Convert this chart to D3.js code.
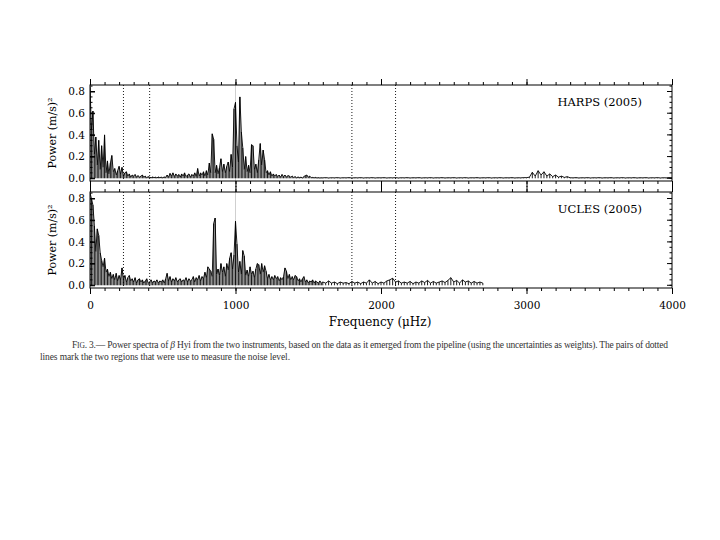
<!DOCTYPE html>
<html><head><meta charset="utf-8">
<script src="https://cdn.jsdelivr.net/npm/d3@7"></script>
<style>body{margin:0;background:#fff}svg{display:block}</style>
</head><body>
<svg id="c" width="720" height="540"></svg>
<script>
// ---------------- data ----------------
const xTicksMajor = [0, 1000, 2000, 3000, 4000];
const yTicksMajor = [0.0, 0.2, 0.4, 0.6, 0.8];
const noiseRegions = [230, 410, 1800, 2100];
const panelLabels = ["HARPS (2005)", "UCLES (2005)"];

// HARPS power, 0..1590 uHz every 10 uHz
const harpsLow = [
0.84,0.45,0.62,0.22,0.38,0.12,0.35,0.08,0.30,0.10,
0.40,0.05,0.16,0.04,0.14,0.21,0.06,0.09,0.03,0.07,
0.11,0.04,0.10,0.02,0.05,0.06,0.02,0.04,0.01,0.03,
0.02,0.035,0.01,0.025,0.01,0.02,0.03,0.01,0.02,0.005,
0.015,0.01,0.005,0.012,0.006,0.01,0.004,0.012,0.006,0.01,
0.005,0.012,0.008,0.03,0.01,0.045,0.02,0.05,0.015,0.04,
0.02,0.035,0.01,0.04,0.02,0.05,0.015,0.03,0.04,0.01,
0.035,0.02,0.05,0.015,0.09,0.02,0.05,0.03,0.06,0.02,
0.07,0.03,0.14,0.05,0.41,0.36,0.05,0.12,0.04,0.10,
0.18,0.06,0.13,0.05,0.11,0.15,0.06,0.22,0.10,0.64,
0.70,0.30,0.15,0.75,0.43,0.28,0.08,0.20,0.06,0.12,
0.05,0.31,0.30,0.08,0.13,0.05,0.17,0.32,0.12,0.26,
0.17,0.05,0.07,0.03,0.06,0.02,0.04,0.02,0.035,0.015,
0.03,0.01,0.035,0.015,0.03,0.01,0.025,0.02,0.01,0.02,
0.008,0.015,0.005,0.012,0.006,0.01,0.004,0.015,0.025,0.03,
0.01,0.02,0.005,0.008,0.004,0.008,0.003,0.006,0.003,0.005];
// HARPS power, 1600..4000 uHz every 20 uHz
const harpsHigh = [
0.004,0.006,0.003,0.005,0.004,0.006,0.003,0.005,0.004,0.006,
0.003,0.005,0.004,0.006,0.003,0.005,0.004,0.006,0.003,0.005,
0.004,0.006,0.003,0.005,0.004,0.006,0.003,0.005,0.004,0.006,
0.003,0.005,0.004,0.006,0.003,0.005,0.004,0.006,0.003,0.005,
0.004,0.006,0.003,0.005,0.004,0.006,0.003,0.005,0.004,0.006,
0.003,0.005,0.004,0.006,0.003,0.005,0.004,0.006,0.003,0.005,
0.004,0.006,0.003,0.005,0.004,0.006,0.003,0.005,0.004,0.006,
0.006,0.01,0.055,0.02,0.07,0.03,0.06,0.02,0.04,0.015,
0.03,0.01,0.02,0.008,0.015,0.005,0.004,0.006,0.003,0.005,
0.004,0.006,0.003,0.005,0.004,0.006,0.003,0.005,0.004,0.006,
0.003,0.005,0.004,0.006,0.003,0.005,0.004,0.006,0.003,0.005,
0.004,0.006,0.003,0.005,0.004,0.006,0.003,0.005,0.004,0.006,0.004];
// UCLES power, 0..1590 uHz every 10 uHz
const uclesLow = [
0.85,0.80,0.74,0.55,0.31,0.52,0.46,0.30,0.23,0.17,
0.25,0.12,0.15,0.08,0.12,0.06,0.10,0.05,0.11,0.04,
0.09,0.05,0.16,0.06,0.09,0.03,0.07,0.09,0.04,0.06,
0.03,0.07,0.02,0.05,0.06,0.03,0.05,0.02,0.04,0.06,
0.02,0.03,0.05,0.02,0.04,0.03,0.05,0.02,0.04,0.03,
0.05,0.02,0.06,0.11,0.04,0.08,0.03,0.06,0.04,0.07,
0.03,0.05,0.06,0.03,0.05,0.04,0.07,0.03,0.06,0.04,
0.05,0.08,0.03,0.07,0.05,0.09,0.04,0.08,0.06,0.12,
0.07,0.17,0.15,0.13,0.08,0.57,0.62,0.10,0.15,0.09,
0.20,0.12,0.17,0.08,0.20,0.14,0.25,0.30,0.15,0.28,
0.59,0.38,0.12,0.22,0.10,0.32,0.27,0.09,0.14,0.08,
0.17,0.10,0.13,0.07,0.15,0.20,0.19,0.10,0.20,0.12,
0.18,0.13,0.06,0.10,0.05,0.08,0.05,0.09,0.06,0.08,
0.04,0.07,0.05,0.08,0.16,0.13,0.06,0.10,0.05,0.08,
0.05,0.09,0.08,0.04,0.06,0.03,0.06,0.08,0.03,0.05,
0.02,0.04,0.03,0.05,0.02,0.04,0.03,0.02,0.04,0.02];
// UCLES power, 1600..2700 uHz every 20 uHz
const uclesHigh = [
0.03,0.02,0.04,0.02,0.03,0.015,0.03,0.02,0.025,0.015,
0.035,0.02,0.03,0.015,0.03,0.02,0.05,0.02,0.035,0.015,
0.03,0.02,0.04,0.05,0.065,0.03,0.04,0.02,0.03,0.02,
0.035,0.015,0.03,0.02,0.04,0.025,0.045,0.02,0.035,0.02,
0.03,0.04,0.025,0.045,0.07,0.03,0.045,0.02,0.05,0.03,
0.04,0.02,0.035,0.02,0.03,0.02];
const lowStep = 10, highStart = 1600, highStep = 20;

// ---------------- drawing ----------------
const svg = d3.select("#c");
const FONT = "DejaVu Serif";
const x = d3.scaleLinear().domain([0, 4000]).range([90, 672]);
const xMinor = d3.range(0, 4001, 100);
const yMinor = d3.range(0, 0.851, 0.05);

function series(low, high) {
  const pts = low.map((v, i) => [i * lowStep, v]);
  high.forEach((v, i) => pts.push([highStart + i * highStep, v]));
  return pts;
}
const panels = [
  {label: panelLabels[0], top: 85, bottom: 181, data: series(harpsLow, harpsHigh)},
  {label: panelLabels[1], top: 192, bottom: 288, data: series(uclesLow, uclesHigh)}
];

// faint grey artefact line at 1000
svg.append("line").attr("x1", x(1000)).attr("x2", x(1000)).attr("y1", 80).attr("y2", 290)
  .attr("stroke", "#cfcfcf").attr("stroke-width", 1);

panels.forEach((p, k) => {
  const y = d3.scaleLinear().domain([-0.025, 0.86]).range([p.bottom, p.top]);
  const g = svg.append("g");
  const cid = "clip" + k;
  svg.append("clipPath").attr("id", cid).append("rect")
    .attr("x", x(0)).attr("y", p.top).attr("width", x(4000) - x(0)).attr("height", p.bottom - p.top);

  // dotted noise region lines
  g.selectAll(".dot").data(noiseRegions).join("line")
    .attr("x1", d => x(d)).attr("x2", d => x(d)).attr("y1", p.top).attr("y2", p.bottom)
    .attr("stroke", "#000").attr("stroke-width", 0.9).attr("stroke-dasharray", "1,2");

  // spectrum: spikes from zero plus connecting line
  const sg = g.append("g").attr("clip-path", `url(#${cid})`);
  sg.selectAll("line").data(p.data).join("line")
    .attr("x1", d => x(d[0])).attr("x2", d => x(d[0]))
    .attr("y1", y(0)).attr("y2", d => y(d[1]))
    .attr("stroke", "#000").attr("stroke-width", 0.9);
  sg.append("path").datum(p.data)
    .attr("d", d3.line().x(d => x(d[0])).y(d => y(d[1])))
    .attr("fill", "none").attr("stroke", "#000").attr("stroke-width", 0.9);

  // frame
  g.append("rect").attr("x", x(0)).attr("y", p.top).attr("width", x(4000) - x(0)).attr("height", p.bottom - p.top)
    .attr("fill", "none").attr("stroke", "#000").attr("stroke-width", 1);

  // x ticks (outward)
  const mk = (axisFn, ty, size, vals, labels) => {
    const a = axisFn(x).tickValues(vals).tickSize(size).tickPadding(8)
      .tickFormat(labels ? d3.format("d") : () => "");
    const ag = g.append("g").attr("transform", `translate(0,${ty})`).call(a);
    ag.select(".domain").remove();
    ag.selectAll("line").attr("stroke", "#000");
    ag.selectAll("text").attr("font-family", FONT).attr("font-size", 10.5).attr("fill", "#000");
  };
  mk(d3.axisTop, p.top, 3, xMinor, false);
  mk(d3.axisTop, p.top, 6, xTicksMajor, false);
  mk(d3.axisBottom, p.bottom, 3, xMinor, false);
  mk(d3.axisBottom, p.bottom, 6, xTicksMajor, k === 1);

  // y ticks (inward)
  const yl = g.append("g").attr("transform", `translate(${x(0)},0)`)
    .call(d3.axisLeft(y).tickValues(yTicksMajor).tickSize(-5).tickPadding(5).tickFormat(d3.format(".1f")));
  yl.select(".domain").remove();
  yl.selectAll("text").attr("font-family", FONT).attr("font-size", 10.5).attr("fill", "#000");
  [[x(0), -1], [x(4000), 1]].forEach(([xx, s]) => {
    g.selectAll(null).data(yMinor).join("line")
      .attr("x1", xx).attr("x2", xx - s * 2.5).attr("y1", d => y(d)).attr("y2", d => y(d))
      .attr("stroke", "#000");
    g.selectAll(null).data(yTicksMajor).join("line")
      .attr("x1", xx).attr("x2", xx - s * 5).attr("y1", d => y(d)).attr("y2", d => y(d))
      .attr("stroke", "#000");
  });

  // y title
  const cy = (p.top + p.bottom) / 2;
  g.append("text").attr("transform", `translate(56,${cy}) rotate(-90)`)
    .attr("text-anchor", "middle").attr("font-family", FONT).attr("font-size", 11)
    .text("Power (m/s)²");

  // panel label
  g.append("text").attr("x", 642).attr("y", p.top + 21).attr("text-anchor", "end")
    .attr("font-family", FONT).attr("font-size", 11.5).text(p.label);
});

// x title
svg.append("text").attr("x", 380).attr("y", 326).attr("text-anchor", "middle")
  .attr("font-family", FONT).attr("font-size", 12).text("Frequency (μHz)");

// caption
const cap = svg.append("g").attr("font-family", "Liberation Serif").attr("font-size", 9.5).attr("fill", "#333");
const l1 = cap.append("text").attr("x", 72).attr("y", 348).attr("textLength", 596).attr("lengthAdjust", "spacing");
l1.append("tspan").text("F");
l1.append("tspan").attr("font-size", 7.5).text("IG");
l1.append("tspan").text(". 3.— Power spectra of ");
l1.append("tspan").attr("font-style", "italic").text("β");
l1.append("tspan").text(" Hyi from the two instruments, based on the data as it emerged from the pipeline (using the uncertainties as weights). The pairs of dotted");
cap.append("text").attr("x", 40).attr("y", 359.5).attr("textLength", 250).attr("lengthAdjust", "spacing")
  .text("lines mark the two regions that were use to measure the noise level.");
</script>
</body></html>
